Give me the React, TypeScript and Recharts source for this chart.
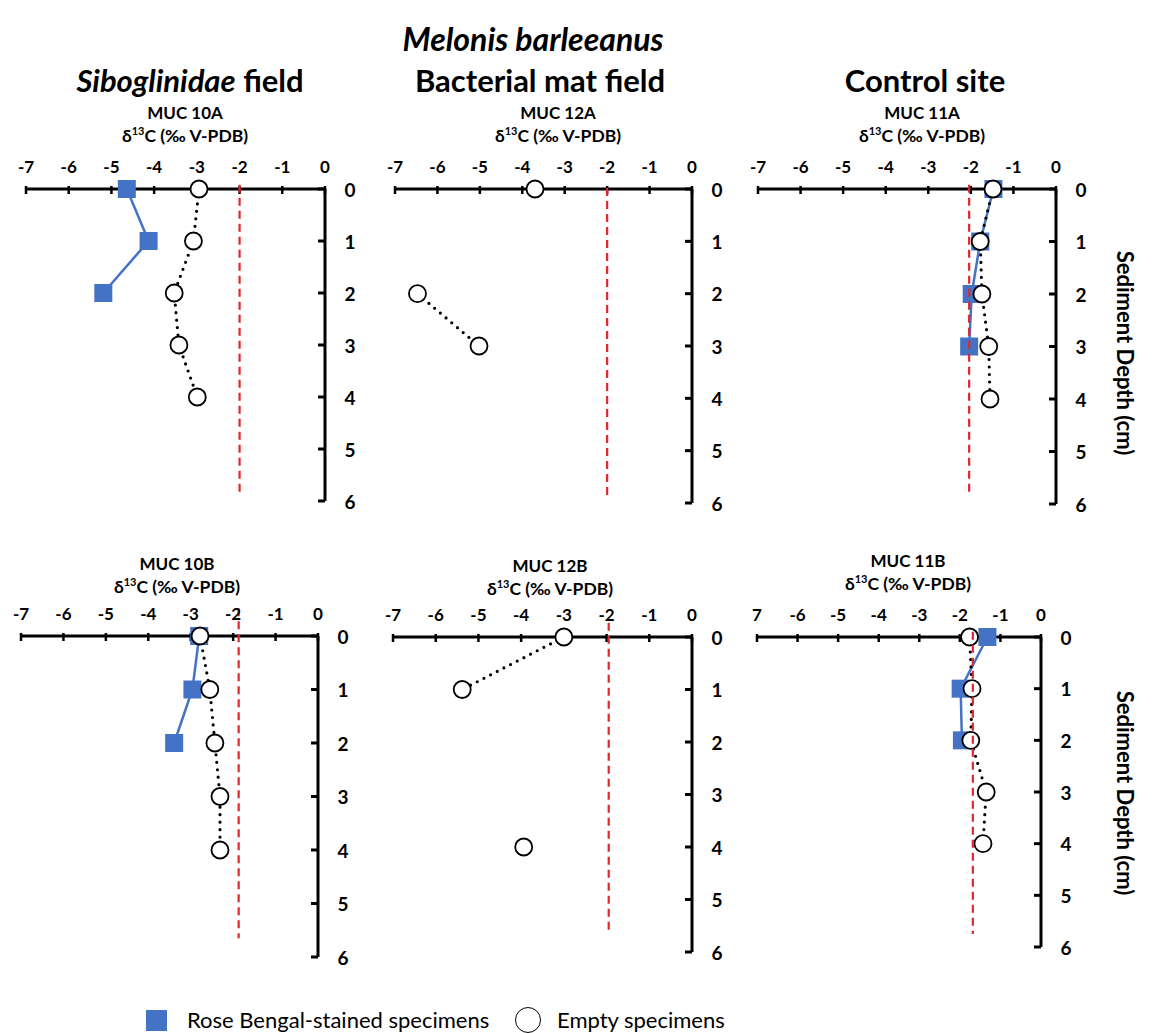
import React from 'react';
import { ScatterChart, Scatter, XAxis, YAxis, ReferenceLine } from 'recharts';

const DEPTHS = [0, 1, 2, 3, 4];
const X_TICKS = [-7, -6, -5, -4, -3, -2, -1, 0];
const Y_TICKS = [0, 1, 2, 3, 4, 5, 6];
const X_LABELS = ['-7', '-6', '-5', '-4', '-3', '-2', '-1', '0'];
// the 11B axis in the original is missing the minus sign on -7
const X_LABELS_11B = ['7', '-6', '-5', '-4', '-3', '-2', '-1', '0'];

// δ13C per depth (0..4 cm), null = no specimens
const stained10A = [-4.64, -4.13, -5.19, null, null];
const empty10A = [-2.95, -3.08, -3.53, -3.42, -2.99];
const empty12A = [-3.7, null, -6.47, -5.02, null];
const stained11A = [-1.47, -1.78, -1.98, -2.04, null];
const empty11A = [-1.48, -1.78, -1.74, -1.58, -1.55];
const stained10B = [-2.8, -2.96, -3.39, null, null];
const empty10B = [-2.78, -2.55, -2.43, -2.31, -2.31];
const empty12B = [-3.0, -5.38, null, null, -3.94];
const stained11B = [-1.32, -1.98, -1.95, null, null];
const empty11B = [-1.76, -1.7, -1.73, -1.35, -1.43];

// red dashed line: [δ13C, top depth, bottom depth]
const ref10A = [-2.0, -0.08, 5.9];
const ref12A = [-2.0, -0.02, 5.85];
const ref11A = [-2.04, -0.08, 5.85];
const ref10B = [-1.87, -0.52, 5.65];
const ref12B = [-1.95, -0.27, 5.65];
const ref11B = [-1.68, -0.1, 5.75];

const BLUE = '#4472C4';
const RED = '#E3262B';
const FONT = 'Lato, "Open Sans", sans-serif';

const runs = (values: (number | null)[]) => {
  const out: { x: number; y: number }[][] = [];
  let cur: { x: number; y: number }[] = [];
  values.forEach((v, i) => {
    if (v == null) {
      if (cur.length) out.push(cur);
      cur = [];
    } else cur.push({ x: v, y: DEPTHS[i] });
  });
  if (cur.length) out.push(cur);
  return out;
};

const PANELS = [
  { name: 'MUC 10A', stained: stained10A, empty: empty10A, ref: ref10A, labels: X_LABELS, x0: 26, x1: 325, y0: 189, y6: 501, tx: 185, ty: 112 },
  { name: 'MUC 12A', stained: null, empty: empty12A, ref: ref12A, labels: X_LABELS, x0: 395, x1: 692, y0: 189, y6: 503, tx: 558, ty: 112 },
  { name: 'MUC 11A', stained: stained11A, empty: empty11A, ref: ref11A, labels: X_LABELS, x0: 758, x1: 1056, y0: 189, y6: 504, tx: 922, ty: 112 },
  { name: 'MUC 10B', stained: stained10B, empty: empty10B, ref: ref10B, labels: X_LABELS, x0: 21, x1: 318, y0: 636, y6: 957, tx: 177, ty: 563 },
  { name: 'MUC 12B', stained: null, empty: empty12B, ref: ref12B, labels: X_LABELS, x0: 393, x1: 692, y0: 637, y6: 952, tx: 550, ty: 565 },
  { name: 'MUC 11B', stained: stained11B, empty: empty11B, ref: ref11B, labels: X_LABELS_11B, x0: 757, x1: 1041, y0: 637, y6: 947, tx: 908, ty: 560 },
];

const ML = 10, MT = 50, XH = 30, YW = 40, MR = 10, MB = 10;

const Square = (p: any) => <rect x={p.cx - 9} y={p.cy - 9} width={18} height={18} fill={BLUE} />;
const Ring = (p: any) => <circle cx={p.cx} cy={p.cy} r={8.5} fill="#fff" stroke="#000" strokeWidth={1.8} />;
// x-axis tick marks, drawn as a series so the markers can sit on top of them
const TickMark = (p: any) => <line x1={p.cx} x2={p.cx} y1={p.cy - 3} y2={p.cy + 5} stroke="#000" strokeWidth={2.5} />;
const tickPoints = X_TICKS.map((v) => ({ x: v, y: 0 }));

function Panel({ panel }: { panel: (typeof PANELS)[number] }) {
  const width = panel.x1 - panel.x0 + ML + YW + MR;
  const height = panel.y6 - panel.y0 + MT + XH + MB;
  const XTick = (p: any) => {
    const i = X_TICKS.indexOf(p.payload.value);
    return (
      <text x={p.x} y={p.y - 16} textAnchor="middle" fontSize={17} fontWeight={700} fontFamily={FONT} fill="#000">
        {panel.labels[i]}
      </text>
    );
  };
  const YTick = (p: any) => (
    <g>
      <line x1={p.x - 7} x2={p.x} y1={p.y} y2={p.y} stroke="#000" strokeWidth={3} />
      <text x={p.x + 25} y={p.y} textAnchor="middle" dominantBaseline="central" fontSize={19} fontWeight={700} fontFamily={FONT} fill="#000">
        {p.payload.value}
      </text>
    </g>
  );
  const [rv, rTop, rBottom] = panel.ref;
  return (
    <div style={{ position: 'absolute', left: panel.x0 - ML, top: panel.y0 - MT - XH }}>
      <ScatterChart width={width} height={height} margin={{ top: MT, right: MR, bottom: MB, left: ML }}>
        <XAxis
          type="number"
          dataKey="x"
          orientation="top"
          domain={[-7, 0]}
          ticks={X_TICKS}
          height={XH}
          tickSize={0}
          tickMargin={0}
          tickLine={false}
          tick={XTick}
          axisLine={{ stroke: '#000', strokeWidth: 3 }}
          interval={0}
        />
        <YAxis
          type="number"
          dataKey="y"
          orientation="right"
          domain={[0, 6]}
          reversed
          ticks={Y_TICKS}
          width={YW}
          tickSize={0}
          tickMargin={0}
          tickLine={false}
          tick={YTick}
          axisLine={{ stroke: '#000', strokeWidth: 3 }}
          interval={0}
        />
        <Scatter data={tickPoints} shape={TickMark} isAnimationActive={false} />
        {panel.stained &&
          runs(panel.stained).map((seg, i) => (
            <Scatter
              key={`s${i}`}
              data={seg}
              shape={Square}
              line={{ stroke: BLUE, strokeWidth: 2.5 }}
              lineType="joint"
              isAnimationActive={false}
            />
          ))}
        {runs(panel.empty).map((seg, i) => (
          <Scatter
            key={`e${i}`}
            data={seg}
            shape={Ring}
            line={{ stroke: '#000', strokeWidth: 3.2, strokeDasharray: '0 7.5', strokeLinecap: 'round' }}
            lineType="joint"
            isAnimationActive={false}
          />
        ))}
        <ReferenceLine
          segment={[{ x: rv, y: rTop }, { x: rv, y: rBottom }]}
          stroke={RED}
          strokeWidth={2.2}
          strokeDasharray="8 5"
          ifOverflow="visible"
          zIndex={700}
        />
      </ScatterChart>
    </div>
  );
}

const centered = (cx: number, cy: number): React.CSSProperties => ({
  position: 'absolute',
  left: cx,
  top: cy,
  transform: 'translate(-50%, -50%)',
  whiteSpace: 'nowrap',
  lineHeight: 1,
});

export default function App() {
  return (
    <div style={{ position: 'absolute', left: 0, top: 0, width: 1152, height: 1033, background: '#fff', fontFamily: FONT, color: '#000' }}>
      <div style={{ ...centered(533, 39), fontSize: 32, fontWeight: 700, fontStyle: 'italic' }}>Melonis barleeanus</div>
      <div style={{ ...centered(190, 80), fontSize: 31, fontWeight: 700 }}>
        <i>Siboglinidae</i> field
      </div>
      <div style={{ ...centered(540, 80), fontSize: 31, fontWeight: 700 }}>Bacterial mat field</div>
      <div style={{ ...centered(925, 80), fontSize: 31, fontWeight: 700 }}>Control site</div>

      {PANELS.map((p) => (
        <React.Fragment key={p.name}>
          <div style={{ ...centered(p.tx, p.ty), fontSize: 17, fontWeight: 700 }}>{p.name}</div>
          <div style={{ ...centered(p.tx, p.ty + 23), fontSize: 17.5, fontWeight: 700 }}>
            δ<sup style={{ fontSize: 11 }}>13</sup>C (‰ V-PDB)
          </div>
          <Panel panel={p} />
        </React.Fragment>
      ))}

      {[353, 793].map((cy) => (
        <div key={cy} style={{ ...centered(1125, cy), fontSize: 22, fontWeight: 700, transform: 'translate(-50%, -50%) rotate(90deg)' }}>
          Sediment Depth (cm)
        </div>
      ))}

      <div style={{ position: 'absolute', left: 146, top: 1010, width: 21, height: 21, background: BLUE }} />
      <div style={{ ...centered(187, 1020), transform: 'translate(0, -50%)', fontSize: 22 }}>Rose Bengal-stained specimens</div>
      <div style={{ position: 'absolute', left: 515, top: 1007, width: 24, height: 24, borderRadius: '50%', border: '1.6px solid #000' }} />
      <div style={{ ...centered(557, 1020), transform: 'translate(0, -50%)', fontSize: 22 }}>Empty specimens</div>
    </div>
  );
}
